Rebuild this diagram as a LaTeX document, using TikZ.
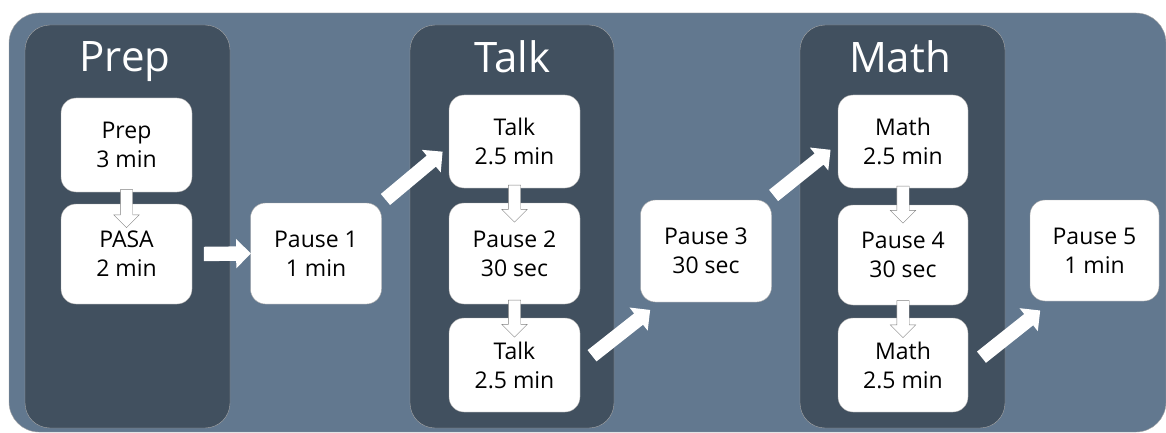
\documentclass[tikz,border=0pt]{standalone}
\usepackage{fontspec}
\setmainfont{Open Sans}
\usetikzlibrary{shapes.arrows,calc}
\definecolor{outerblue}{HTML}{62788F}
\definecolor{panelblue}{HTML}{41505F}
\begin{document}
\begin{tikzpicture}[x=1pt,y=-1pt,
	panel/.style={draw=gray!70,fill=panelblue,rounded corners=25pt},
	stepbox/.style={draw=gray!70,fill=white,rounded corners=15pt,minimum width=131pt,align=center,inner sep=0pt,font=\fontsize{23}{29}\selectfont},
	title/.style={text=white,anchor=base,font=\fontsize{42}{50}\selectfont},
	bigarrow/.style={single arrow,fill=white,inner xsep=0pt,inner ysep=7pt,single arrow head extend=7.5pt,sloped},
	downarrow/.style={single arrow,draw=gray,fill=white,inner sep=6pt,single arrow head extend=6.5pt,shape border rotate=270,minimum height=37pt}]
	\path[use as bounding box] (0,0) rectangle (1166,433);
	\draw[draw=gray!70,fill=outerblue,rounded corners=30pt] (9,13) rectangle (1166,432);
	% the three stages
	\draw[panel] (25,25) rectangle (230,428);
	\draw[panel] (410,25) rectangle (614,428);
	\draw[panel] (800,25) rectangle (1005,428);
	\node[title] (preptitle) at (125,72) {Prep};
	\node[title] (talktitle) at (512.5,73) {Talk};
	\node[title] (mathtitle) at (900,73) {Math};
	% steps
	\node[stepbox,minimum height=94pt] (prep) at (126.5,145) {Prep\\3 min};
	\node[stepbox,minimum height=100pt] (pasa) at (126.5,254) {PASA\\2 min};
	\node[stepbox,minimum height=101pt] (pauseA) at (316,253.5) {Pause 1\\1 min};
	\node[stepbox,minimum height=93pt] (talkA) at (514.5,141.5) {Talk\\2.5 min};
	\node[stepbox,minimum height=101pt] (pauseB) at (514.5,253.5) {Pause 2\\30 sec};
	\node[stepbox,minimum height=94pt] (talkB) at (514.5,365) {Talk\\2.5 min};
	\node[stepbox,minimum height=102pt] (pauseC) at (706,251) {Pause 3\\30 sec};
	\node[stepbox,minimum height=93pt,minimum width=130pt] (mathA) at (903,141.5) {Math\\2.5 min};
	\node[stepbox,minimum height=100pt,minimum width=130pt] (pauseD) at (903,255) {Pause 4\\30 sec};
	\node[stepbox,minimum height=94pt,minimum width=130pt] (mathB) at (903,365) {Math\\2.5 min};
	\node[stepbox,minimum height=101pt,minimum width=129pt] (pauseE) at (1094.5,250.5) {Pause 5\\1 min};
	% arrows inside the stages
	\path ($(prep.south)+(0,-6)$) -- ($(pasa.north)+(0,21)$) node[midway,downarrow,minimum height=38pt]{};
	\path ($(talkA.south)+(0,-6)$) -- ($(pauseB.north)+(0,16)$) node[midway,downarrow]{};
	\path ($(pauseB.south)+(0,-7)$) -- ($(talkB.north)+(0,16)$) node[midway,downarrow]{};
	\path ($(mathA.south)+(0,-6)$) -- ($(pauseD.north)+(0,16)$) node[midway,downarrow]{};
	\path ($(pauseD.south)+(0,-7)$) -- ($(mathB.north)+(0,16)$) node[midway,downarrow]{};
	% arrows between the stages
	\path ($(pasa.east)+(8,0)$) -- ($(pauseA.west)+(-3,0)$) node[midway,bigarrow,minimum height=47pt]{};
	\path ($(pauseA.north east)+(1,-1)$) -- ($(talkA.west)+(-9,12.5)$) node[midway,bigarrow,minimum height=74.5pt]{};
	\path ($(talkB.east)+(9,-7)$) -- ($(pauseC.south west)+(7,10)$) node[midway,bigarrow,minimum height=74pt]{};
	\path ($(pauseC.north east)+(-1,-2)$) -- ($(mathA.west)+(-10,10.5)$) node[midway,bigarrow,minimum height=73pt]{};
	\path ($(mathB.east)+(11,-6)$) -- ($(pauseE.south west)+(7,12)$) node[midway,bigarrow,minimum height=75pt]{};
\end{tikzpicture}
\end{document}
